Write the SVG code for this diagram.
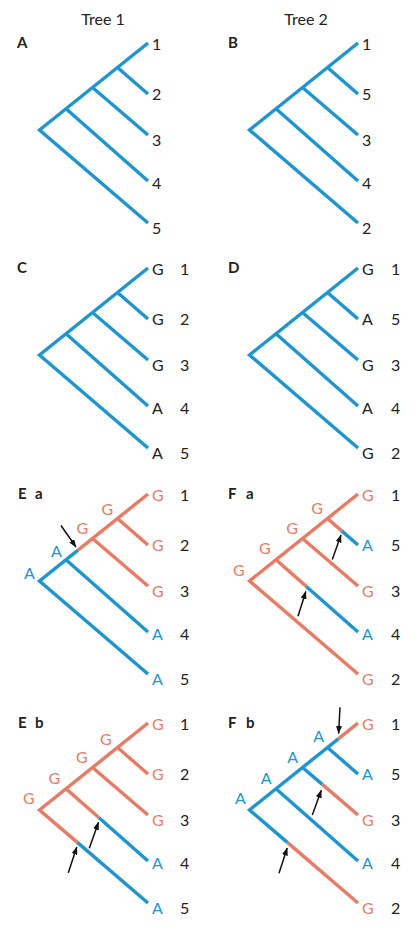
<svg xmlns="http://www.w3.org/2000/svg" width="418" height="929" viewBox="0 0 418 929">
<style>
text{font-family:Lato,"Open Sans","Liberation Sans",sans-serif;font-size:16px;fill:#222}
.ttl{font-size:16px}
.pl{font-size:15px;font-weight:bold}
.b{fill:none;stroke:#1b96d4;stroke-width:3.4;stroke-linejoin:miter}
.o{fill:none;stroke:#ec7a63;stroke-width:3.4;stroke-linejoin:miter}
.tb{fill:#1b96d4}
.to{fill:#ec7a63}
.arr{stroke:#111;stroke-width:1.5;fill:none;marker-end:url(#ah)}
</style>
<defs>
<marker id="ah" markerUnits="userSpaceOnUse" markerWidth="8" markerHeight="6" refX="7.5" refY="3" orient="auto">
<path d="M0,0 L8,3 L0,6 z" fill="#111"/>
</marker>
</defs>
<text class="ttl" x="103" y="25" text-anchor="middle">Tree 1</text>
<text class="ttl" x="306" y="25" text-anchor="middle">Tree 2</text>

<g id="panelA">
<text class="pl" x="17" y="48">A</text>
<g class="connectors">
<path class="b" d="M148,43 L39.5,130 L148,223 M66,108.75 L148,181 M92.5,87.5 L148,135 M117.5,67.5 L148,94"/>
</g>
<text x="152" y="50">1</text><text x="152" y="100">2</text><text x="152" y="146">3</text><text x="152" y="189">4</text><text x="152" y="234">5</text>
</g>

<g id="panelB" transform="translate(210,0)">
<text class="pl" x="18" y="48">B</text>
<g class="connectors">
<path class="b" d="M148,43 L39.5,130 L148,223 M66,108.75 L148,181 M92.5,87.5 L148,135 M117.5,67.5 L148,94"/>
</g>
<text x="152" y="50">1</text><text x="152" y="100">5</text><text x="152" y="146">3</text><text x="152" y="189">4</text><text x="152" y="234">2</text>
</g>

<g id="panelC" transform="translate(0,225)">
<text class="pl" x="17" y="48">C</text>
<g class="connectors">
<path class="b" d="M148,43 L39.5,130 L148,223 M66,108.75 L148,181 M92.5,87.5 L148,135 M117.5,67.5 L148,94"/>
</g>
<text x="152" y="50">G</text><text x="152" y="100">G</text><text x="152" y="146">G</text><text x="152" y="189">A</text><text x="152" y="234">A</text>
<text x="180" y="50">1</text><text x="180" y="100">2</text><text x="180" y="146">3</text><text x="180" y="189">4</text><text x="180" y="234">5</text>
</g>

<g id="panelD" transform="translate(210,225)">
<text class="pl" x="18" y="48">D</text>
<g class="connectors">
<path class="b" d="M148,43 L39.5,130 L148,223 M66,108.75 L148,181 M92.5,87.5 L148,135 M117.5,67.5 L148,94"/>
</g>
<text x="152" y="50">G</text><text x="152" y="100">A</text><text x="152" y="146">G</text><text x="152" y="189">A</text><text x="152" y="234">G</text>
<text x="181" y="50">1</text><text x="181" y="100">5</text><text x="181" y="146">3</text><text x="181" y="189">4</text><text x="181" y="234">2</text>
</g>

<g id="panelEa" transform="translate(0,451)">
<text class="pl" x="18" y="48">E<tspan x="35">a</tspan></text>
<g class="connectors">
<path class="b" d="M78,99.1 L39.5,130 L148,223 M66,108.75 L148,181"/>
<path class="o" d="M78,99.1 L148,43 M92.5,87.5 L148,135 M117.5,67.5 L148,94"/>
<path class="arr" d="M61,74.5 L76,96"/>
</g>
<text class="tb" x="24" y="127.5">A</text><text class="tb" x="51" y="106">A</text><text class="to" x="76.5" y="82.6">G</text><text class="to" x="101.5" y="64.3">G</text>
<text class="to" x="152" y="50">G</text><text class="to" x="152" y="100">G</text><text class="to" x="152" y="146">G</text><text class="tb" x="152" y="189">A</text><text class="tb" x="152" y="234">A</text>
<text x="180" y="50">1</text><text x="180" y="100">2</text><text x="180" y="146">3</text><text x="180" y="189">4</text><text x="180" y="234">5</text>
</g>

<g id="panelFa" transform="translate(210,451)">
<text class="pl" x="18" y="48">F<tspan x="36">a</tspan></text>
<g class="connectors">
<path class="o" d="M148,43 L39.5,130 L148,223 M66,108.75 L96.3,135.4 M92.5,87.5 L148,135 M117.5,67.5 L131.7,79.9"/>
<path class="b" d="M96.3,135.4 L148,181 M131.7,79.9 L148,94"/>
<path class="arr" d="M122.3,108.6 L131,84"/>
<path class="arr" d="M88,165.3 L95.8,140.5"/>
</g>
<text class="to" x="23" y="124.5">G</text><text class="to" x="49" y="103">G</text><text class="to" x="76.3" y="82.6">G</text><text class="to" x="101.3" y="62.8">G</text>
<text class="to" x="152" y="50">G</text><text class="tb" x="152" y="100">A</text><text class="to" x="152" y="146">G</text><text class="tb" x="152" y="189">A</text><text class="to" x="152" y="234">G</text>
<text x="181" y="50">1</text><text x="181" y="100">5</text><text x="181" y="146">3</text><text x="181" y="189">4</text><text x="181" y="234">2</text>
</g>

<g id="panelEb" transform="translate(0,680)">
<text class="pl" x="18" y="48">E<tspan x="35">b</tspan></text>
<g class="connectors">
<path class="o" d="M148,43 L39.5,130 L77.3,162.4 M66,108.75 L99,137.7 M92.5,87.5 L148,135 M117.5,67.5 L148,94"/>
<path class="b" d="M77.3,162.4 L148,223 M99,137.7 L148,181"/>
<path class="arr" d="M68.3,192.7 L76.8,167"/>
<path class="arr" d="M89.3,168.3 L98.5,142.3"/>
</g>
<text class="to" x="23" y="123.5">G</text><text class="to" x="48.5" y="103.5">G</text><text class="to" x="76" y="83.3">G</text><text class="to" x="100" y="65">G</text>
<text class="to" x="152" y="50">G</text><text class="to" x="152" y="100">G</text><text class="to" x="152" y="146">G</text><text class="tb" x="152" y="189">A</text><text class="tb" x="152" y="234">A</text>
<text x="180" y="50">1</text><text x="180" y="100">2</text><text x="180" y="146">3</text><text x="180" y="189">4</text><text x="180" y="234">5</text>
</g>

<g id="panelFb" transform="translate(210,680)">
<text class="pl" x="18" y="48">F<tspan x="36">b</tspan></text>
<g class="connectors">
<path class="b" d="M128.3,58.8 L39.5,130 L77.3,162.4 M66,108.75 L148,181 M92.5,87.5 L112.3,104.4 M117.5,67.5 L148,94"/>
<path class="o" d="M128.3,58.8 L148,43 M112.3,104.4 L148,135 M77.3,162.4 L148,223"/>
<path class="arr" d="M130,27.3 L128.6,53.5"/>
<path class="arr" d="M102.3,135 L111.3,110.3"/>
<path class="arr" d="M69,193.3 L77.2,168"/>
</g>
<text class="tb" x="25" y="123.5">A</text><text class="tb" x="50.7" y="103.5">A</text><text class="tb" x="77.3" y="83.3">A</text><text class="tb" x="103.3" y="61.7">A</text>
<text class="to" x="152" y="50">G</text><text class="tb" x="152" y="100">A</text><text class="to" x="152" y="146">G</text><text class="tb" x="152" y="189">A</text><text class="to" x="152" y="234">G</text>
<text x="181" y="50">1</text><text x="181" y="100">5</text><text x="181" y="146">3</text><text x="181" y="189">4</text><text x="181" y="234">2</text>
</g>
</svg>
